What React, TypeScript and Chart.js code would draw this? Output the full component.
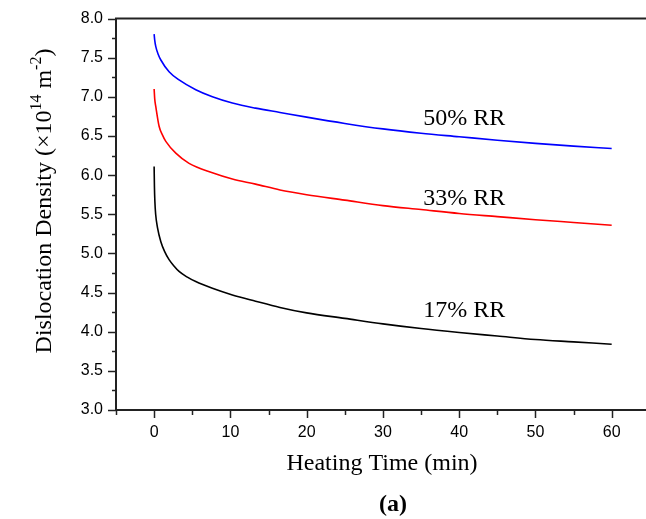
import React, { useEffect, useRef } from "react";
import { Chart, registerables } from "chart.js";

Chart.register(...registerables);

// ---- data (heating time in min, dislocation density in 1e14 m^-2) ----
const time17 = [0, 0.04, 0.1, 0.2, 0.44, 0.88, 1.4, 1.96, 2.6, 3.27, 4.3, 5.46, 7.64, 10.26, 13.3, 16.5, 20, 25, 30, 35, 40, 45, 50, 55, 60];
const dens17 = [6.11, 5.85, 5.66, 5.5, 5.33, 5.15, 5.02, 4.92, 4.84, 4.77, 4.7, 4.64, 4.555, 4.47, 4.39, 4.31, 4.24, 4.17, 4.1, 4.04, 3.99, 3.945, 3.9, 3.87, 3.84];

const time33 = [0, 0.08, 0.22, 0.66, 1.1, 1.53, 2.84, 4.58, 7.64, 10.26, 13.3, 16.5, 20, 25, 30, 35, 40, 45, 50, 55, 60];
const dens33 = [7.1, 6.97, 6.875, 6.62, 6.51, 6.43, 6.28, 6.15, 6.03, 5.95, 5.885, 5.81, 5.75, 5.68, 5.61, 5.56, 5.51, 5.47, 5.43, 5.395, 5.36];

const time50 = [0, 0.08, 0.22, 0.5, 0.88, 1.96, 3.27, 5.46, 7.64, 10.26, 13.3, 16.5, 20, 25, 30, 35, 40, 45, 50, 55, 60];
const dens50 = [7.8, 7.72, 7.64, 7.55, 7.47, 7.32, 7.215, 7.09, 7.0, 6.92, 6.855, 6.8, 6.74, 6.66, 6.59, 6.535, 6.49, 6.445, 6.405, 6.37, 6.34];

const seriesLabels = ["17% RR", "33% RR", "50% RR"];
const seriesColors = ["#000000", "#ff0000", "#0000ff"];
const labelTime = [35.3, 35.3, 35.3];
const labelValue = [4.19, 5.621, 6.642];

const xTitle = "Heating Time (min)";
const yTitleParts: [string, boolean][] = [
  ["Dislocation Density (\u00d710", false],
  ["14", true],
  [" m", false],
  ["-2", true],
  [")", false],
];
const panelLabel = "(a)";

const X_MIN = -5;
const X_MAX = 64.5;
const Y_MIN = 3;
const Y_MAX = 8;

const SERIF = '"Liberation Serif", "Times New Roman", serif';
const SANS = '"Liberation Sans", Arial, sans-serif';

const decorPlugin = {
  id: "decor",
  afterDraw(chart: any) {
    const { ctx, chartArea, scales } = chart;
    const xs = scales.x;
    const ys = scales.y;
    ctx.save();
    // top frame line
    ctx.strokeStyle = "#222";
    ctx.lineWidth = 2;
    ctx.beginPath();
    ctx.moveTo(chartArea.left - 1, chartArea.top);
    ctx.lineTo(chartArea.right, chartArea.top);
    ctx.stroke();

    // tick marks (major / minor)
    ctx.lineWidth = 1.5;
    xs.ticks.forEach((t: any) => {
      const px = Math.round(xs.getPixelForValue(t.value)) + 0.5;
      const major = Math.abs(t.value / 10 - Math.round(t.value / 10)) < 1e-6;
      ctx.beginPath();
      ctx.moveTo(px, chartArea.bottom);
      ctx.lineTo(px, chartArea.bottom + (major ? 8 : 5));
      ctx.stroke();
    });
    ys.ticks.forEach((t: any) => {
      const py = Math.round(ys.getPixelForValue(t.value)) + 0.5;
      const major = Math.abs(t.value * 2 - Math.round(t.value * 2)) < 1e-6;
      ctx.beginPath();
      ctx.moveTo(chartArea.left, py);
      ctx.lineTo(chartArea.left - (major ? 8 : 4), py);
      ctx.stroke();
    });

    ctx.fillStyle = "#000";
    ctx.textBaseline = "alphabetic";

    // series labels
    ctx.font = `24px ${SERIF}`;
    ctx.textAlign = "left";
    seriesLabels.forEach((s, i) => {
      ctx.fillText(s, xs.getPixelForValue(labelTime[i]), ys.getPixelForValue(labelValue[i]));
    });

    // x title
    const cx = (chartArea.left + chartArea.right) / 2;
    ctx.font = `24px ${SERIF}`;
    ctx.textAlign = "center";
    ctx.fillText(xTitle, cx + 1, chartArea.bottom + 60);

    // panel label
    ctx.font = `bold 24px ${SERIF}`;
    ctx.fillText(panelLabel, cx + 12, chartArea.bottom + 101);

    // y title with superscripts
    const mainFont = `24px ${SERIF}`;
    const supFont = `16px ${SERIF}`;
    let total = 0;
    yTitleParts.forEach(([t, sup]) => {
      ctx.font = sup ? supFont : mainFont;
      total += ctx.measureText(t).width;
    });
    const cy = 201;
    ctx.translate(51, cy + total / 2);
    ctx.rotate(-Math.PI / 2);
    ctx.textAlign = "left";
    let pos = 0;
    yTitleParts.forEach(([t, sup]) => {
      ctx.font = sup ? supFont : mainFont;
      ctx.fillText(t, pos, sup ? -10 : 0);
      pos += ctx.measureText(t).width;
    });
    ctx.restore();
  },
};

function toPoints(xs: number[], ys: number[]) {
  return xs.map((x, i) => ({ x, y: ys[i] }));
}

export default function App() {
  const ref = useRef<HTMLCanvasElement | null>(null);

  useEffect(() => {
    document.body.style.margin = "0";
    const canvas = ref.current;
    if (!canvas) return;
    const chart = new Chart(canvas, {
      type: "line",
      data: {
        datasets: [
          { label: seriesLabels[0], data: toPoints(time17, dens17) },
          { label: seriesLabels[1], data: toPoints(time33, dens33) },
          { label: seriesLabels[2], data: toPoints(time50, dens50) },
        ].map((d, i) => ({
          ...d,
          borderColor: seriesColors[i],
          backgroundColor: seriesColors[i],
          borderWidth: 1.6,
          pointRadius: 0,
          fill: false,
          cubicInterpolationMode: "monotone" as const,
        })),
      },
      options: {
        responsive: false,
        animation: false,
        devicePixelRatio: 1,
        layout: { padding: { top: 18.5, right: 0, bottom: 0, left: 0 } },
        plugins: {
          legend: { display: false },
          tooltip: { enabled: false },
          title: { display: false },
        },
        scales: {
          x: {
            type: "linear",
            min: X_MIN,
            max: X_MAX,
            grid: { display: false, drawTicks: true, tickLength: 13 },
            border: { display: true, color: "#222", width: 2 },
            ticks: {
              stepSize: 5,
              includeBounds: false,
              autoSkip: false,
              maxRotation: 0,
              padding: 0,
              color: "#000",
              font: { family: SANS, size: 16 },
              callback: (v: any) => {
                const n = Number(v);
                return Math.abs(n / 10 - Math.round(n / 10)) < 1e-6 ? String(Math.round(n)) : "";
              },
            },
            afterFit: (s: any) => {
              s.height = 109;
            },
          },
          y: {
            type: "linear",
            min: Y_MIN,
            max: Y_MAX,
            grid: { display: false, drawTicks: true, tickLength: 13 },
            border: { display: true, color: "#222", width: 2 },
            ticks: {
              stepSize: 0.25,
              autoSkip: false,
              padding: 0,
              color: "#000",
              font: { family: SANS, size: 16 },
              callback: (v: any) => {
                const n = Number(v);
                return Math.abs(n * 2 - Math.round(n * 2)) < 1e-6 ? n.toFixed(1) : "";
              },
            },
            afterFit: (s: any) => {
              s.width = 116;
            },
          },
        },
      },
      plugins: [decorPlugin],
    });
    return () => chart.destroy();
  }, []);

  return (
    <div style={{ width: 646, height: 519 }}>
      <canvas ref={ref} width={646} height={519} style={{ display: "block" }} />
    </div>
  );
}
